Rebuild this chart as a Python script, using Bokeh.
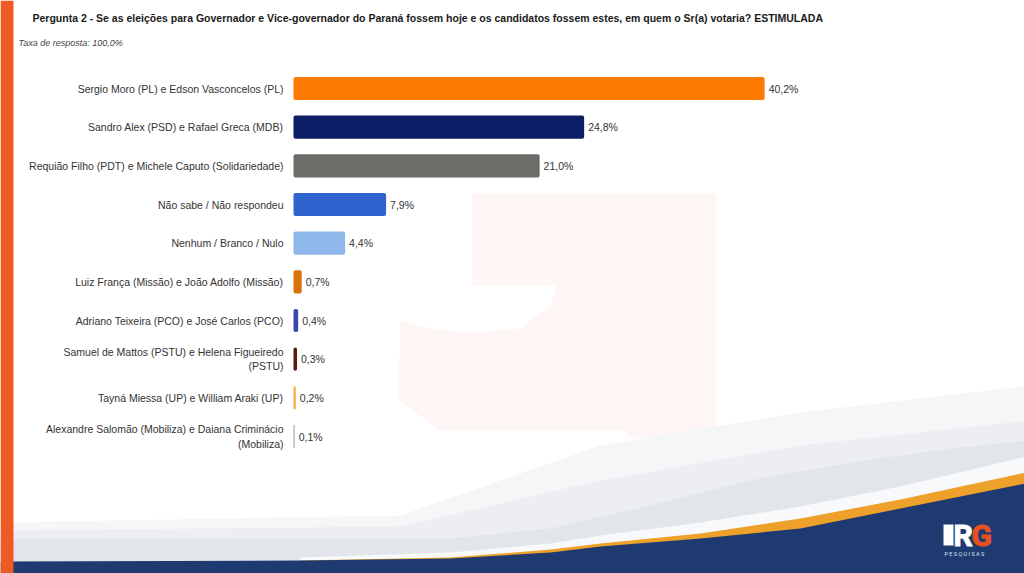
from bokeh.plotting import figure
from bokeh.models import Range1d, ColumnDataSource
from bokeh.core.properties import value
from bokeh.embed import file_html
from bokeh.resources import INLINE

# ---------------- data ----------------
categories = [
    "Sergio Moro (PL) e Edson Vasconcelos (PL)",
    "Sandro Alex (PSD) e Rafael Greca (MDB)",
    "Requião Filho (PDT) e Michele Caputo (Solidariedade)",
    "Não sabe / Não respondeu",
    "Nenhum / Branco / Nulo",
    "Luiz França (Missão) e João Adolfo (Missão)",
    "Adriano Teixeira (PCO) e José Carlos (PCO)",
    "Samuel de Mattos (PSTU) e Helena Figueiredo\n(PSTU)",
    "Tayná Miessa (UP) e William Araki (UP)",
    "Alexandre Salomão (Mobiliza) e Daiana Criminácio\n(Mobiliza)",
]
values = [40.2, 24.8, 21.0, 7.9, 4.4, 0.7, 0.4, 0.3, 0.2, 0.1]
colors = ["#FF7A00", "#0B1E66", "#6E6C69", "#2F63CE", "#8EB7EA",
          "#DA720E", "#3B46AE", "#5B1910", "#F4B347", "#A3A3BC"]
value_labels = [f"{v:.1f}".replace(".", ",") + "%" for v in values]
title = ("Pergunta 2 - Se as eleições para Governador e Vice-governador do Paraná "
         "fossem hoje e os candidatos fossem estes, em quem o Sr(a) votaria? ESTIMULADA")
subtitle = "Taxa de resposta: 100,0%"

W, H = 1024, 573
# bar geometry (canvas pixels)
x0_px, px_per_unit = 293.0, 11.72
y0_px, row_px = 88.0, 38.67

p = figure(width=W, height=H, output_backend="svg", toolbar_location=None,
           x_range=Range1d(-x0_px / px_per_unit, (W - x0_px) / px_per_unit),
           y_range=Range1d((H - y0_px) / row_px, -y0_px / row_px),
           min_border=0, min_border_left=0, min_border_right=0,
           min_border_top=0, min_border_bottom=0)
p.axis.visible = False
p.grid.visible = False
p.outline_line_color = None
p.background_fill_color = "#FFFFFF"
p.border_fill_color = "#FFFFFF"
# decoration ranges in page pixel coordinates
p.extra_x_ranges = {"px": Range1d(0, W)}
p.extra_y_ranges = {"px": Range1d(H, 0)}
PX = dict(x_range_name="px", y_range_name="px")

# watermark (faint)
wm_x = [472, 716, 716, 627, 627, 440, 405, 398, 400, 430, 470, 520, 550, 557, 472]
wm_y = [193, 193, 437, 437, 430, 430, 405, 400, 320, 328, 332, 328, 305, 285, 285]
p.patch(wm_x, wm_y, fill_color="#FEF5F5", line_color=None, **PX)

# bottom decoration
p.patch([0, 400, 600, 800, 1030, 1030, 0], [522, 515, 445, 412, 385, 580, 580],
        fill_color="#F5F6F8", line_color=None, **PX)
p.patch([0, 400, 600, 800, 1030, 1030, 0], [530, 526, 480, 445, 420, 580, 580],
        fill_color="#ECEEF1", line_color=None, **PX)
p.patch([0, 450, 550, 650, 750, 850, 950, 1030, 1030, 0],
        [538, 538, 528, 505, 480, 462, 448, 440, 580, 580],
        fill_color="#E2E5EA", line_color=None, **PX)
p.patch([300, 450, 550, 600, 700, 800, 900, 1030, 1030, 300],
        [557, 552, 543, 535, 522, 506, 486, 455, 580, 580],
        fill_color="#F8F9FB", line_color=None, **PX)
p.patch([300, 450, 550, 600, 700, 800, 900, 1030, 1030, 300],
        [560, 557, 549, 543, 533, 518, 499, 471, 580, 580],
        fill_color="#EDA12B", line_color=None, **PX)
p.patch([0, 300, 450, 550, 600, 700, 800, 900, 1030, 1030, 0],
        [561, 560, 558, 552, 546, 538, 528, 508, 482, 580, 580],
        fill_color="#1E3A70", line_color=None, **PX)
# left stripe
p.quad(left=[0], right=[13], top=[0], bottom=[580], fill_color="#EE5A24",
       line_color=None, **PX)

# logo
p.quad(left=[943], right=[953], top=[524], bottom=[545], fill_color="#FFFFFF",
       line_color=None, **PX)
logo_letters = ["R", "G"]
logo_x = [953, 971]
logo_c = ["#FFFFFF", "#E8521E"]
for lx, lt, lc in zip(logo_x, logo_letters, logo_c):
    p.text(x=[lx], y=[535], text=[lt], text_font=value("Roboto"),
           text_font_style="bold", text_font_size="30px", text_color=lc,
           text_outline_color=lc, text_baseline="middle", **PX)
p.text(x=[944], y=[553], text=["P E S Q U I S A S"], text_font=value("Roboto"),
       text_font_size="5.5px", text_color="#DDE4F0", text_baseline="middle", **PX)

# title texts
p.text(x=[32], y=[17], text=[title], text_font=value("Liberation Sans"),
       text_font_style="bold", text_font_size="10.5px", text_color="#1A1A1A",
       text_baseline="middle", **PX)
p.text(x=[18], y=[42], text=[subtitle], text_font=value("Liberation Sans"),
       text_font_style="italic", text_font_size="9px", text_color="#444444",
       text_baseline="middle", **PX)

# bars
src = ColumnDataSource(dict(y=list(range(len(categories))), v=values, c=colors,
                            cat=categories, lab=value_labels,
                            zero=[0] * len(values)))
p.hbar(y="y", left=0, right="v", height=0.6, fill_color="c", line_color=None,
       border_radius=2, source=src)
p.text(x="v", y="y", text="lab", source=src, x_offset=4, text_font=value("Liberation Sans"),
       text_font_size="10.5px", text_color="#333333", text_baseline="middle")
p.text(x="zero", y="y", text="cat", source=src, x_offset=-10,
       text_font=value("Liberation Sans"), text_font_size="10.5px",
       text_color="#333333", text_align="right", text_baseline="middle",
       text_line_height=1.2)

open("out.html", "w").write(file_html(p, INLINE))
